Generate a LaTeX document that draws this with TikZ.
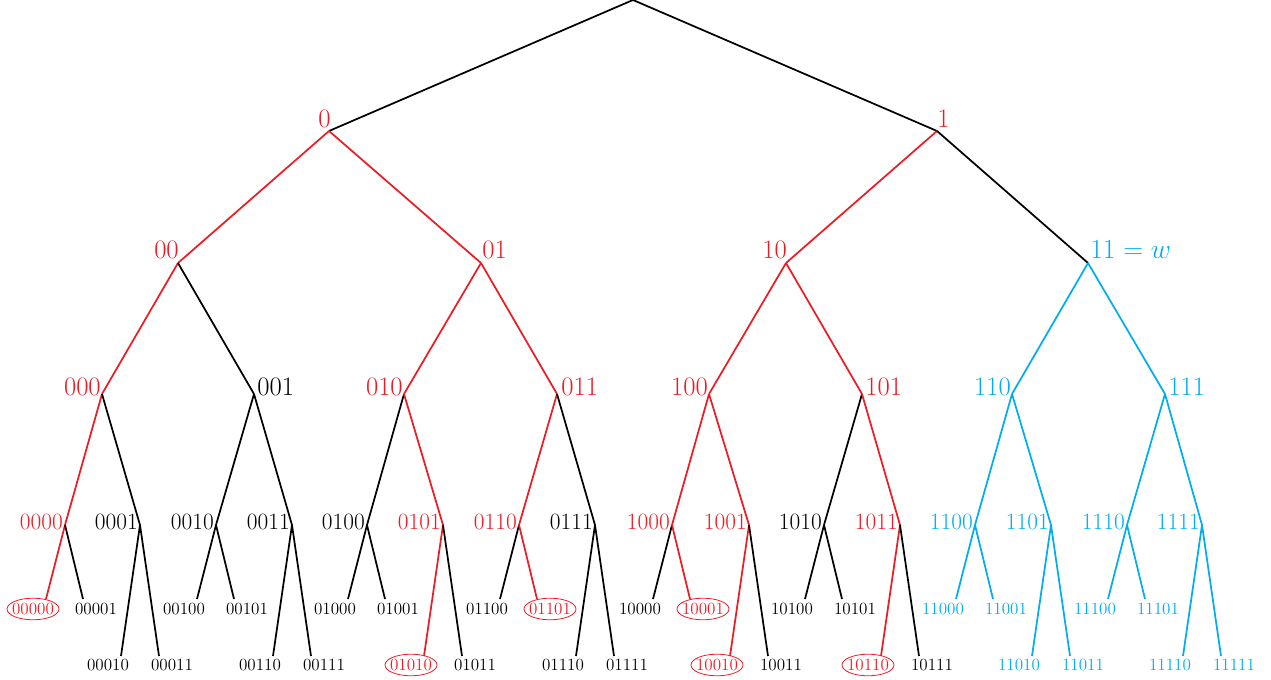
\documentclass[tikz,border=0pt]{standalone}
\usetikzlibrary{calc}
\definecolor{myred}{RGB}{237,28,36}
\definecolor{mycyan}{RGB}{0,174,239}
\begin{document}
\begin{tikzpicture}[x=0.75pt,y=-0.75pt,
  edge/.style={line width=1.3pt},
  lab/.style={inner sep=0pt},
  big/.style={lab,font=\fontsize{20}{22}\selectfont},
  mid/.style={lab,font=\fontsize{17.5}{19}\selectfont},
  sml/.style={lab,font=\fontsize{12.8}{14}\selectfont},
  ring/.style={draw=myred,line width=0.6pt}]
\useasboundingbox (0,0) rectangle (1271,680);
% tree vertices
\coordinate (r) at (633,0);
\coordinate (n0) at (329,131);
\coordinate (n1) at (937,131);
\coordinate (n00) at (178,263);
\coordinate (n01) at (481,263);
\coordinate (n10) at (786,263);
\coordinate (n11) at (1088,263);
% levels 1 and 2
\draw[edge] (r) -- (n0);
\draw[edge] (r) -- (n1);
\draw[edge,myred] (n0) -- (n00);
\draw[edge,myred] (n0) -- (n01);
\draw[edge,myred] (n1) -- (n10);
\draw[edge] (n1) -- (n11);
\node[big,text=myred,anchor=east] (l0) at (331,119) {0};
\node[big,text=myred,anchor=west] (l1) at (937,119) {1};
\node[big,text=myred,anchor=east] (l00) at (179,250) {00};
\node[big,text=myred,anchor=west] (l01) at (482,250) {01};
\node[big,text=myred,anchor=east] (l10) at (787,250) {10};
\node[big,text=mycyan,anchor=west] (l11) at (1090,250) {$11 = w$};
% level 3
\foreach \p/\x/\q/\c/\an/\lx in {
  000/102/00/myred/east/101, 001/254/00/black/west/257,
  010/404/01/myred/east/403, 011/557/01/myred/west/561,
  100/709/10/myred/east/708, 101/862/10/myred/west/865,
  110/1012/11/mycyan/east/1011, 111/1165/11/mycyan/west/1168}{
  \coordinate (n\p) at (\x,394);
  \draw[edge,\c] (n\q) -- (n\p);
  \node[big,text=\c,anchor=\an] (l\p) at (\lx,387) {\p};
}
% level 4
\foreach \p/\x/\q/\c in {
  0000/65/000/myred, 0001/140/000/black,
  0010/216/001/black, 0011/292/001/black,
  0100/367/010/black, 0101/443/010/myred,
  0110/519/011/myred, 0111/595/011/black,
  1000/672/100/myred, 1001/749/100/myred,
  1010/824/101/black, 1011/900/101/myred,
  1100/975/110/mycyan, 1101/1051/110/mycyan,
  1110/1127/111/mycyan, 1111/1202/111/mycyan}{
  \coordinate (n\p) at (\x,525);
  \draw[edge,\c] (n\q) -- (n\p);
  \node[mid,text=\c,anchor=east] (l\p) at (\x-2,522) {\p};
}
% leaves
\foreach \p/\xl/\xr/\y/\ty/\cl/\cr in {
  0000/46/83/599/609/myred/black,
  0001/121/159/656/665/black/black,
  0010/197/234/599/609/black/black,
  0011/273/311/656/665/black/black,
  0100/348/385/599/609/black/black,
  0101/424/462/656/665/myred/black,
  0110/500/537/599/609/black/myred,
  0111/576/614/656/665/black/black,
  1000/653/690/599/609/black/myred,
  1001/730/768/656/665/myred/black,
  1010/805/842/599/609/black/black,
  1011/881/919/656/665/myred/black,
  1100/956/993/599/609/mycyan/mycyan,
  1101/1032/1070/656/665/mycyan/mycyan,
  1110/1108/1145/599/609/mycyan/mycyan,
  1111/1183/1221/656/665/mycyan/mycyan}{
  \coordinate (n\p0) at (\xl,\y);
  \coordinate (n\p1) at (\xr,\y);
  \draw[edge,\cl] (n\p) -- (n\p0);
  \draw[edge,\cr] (n\p) -- (n\p1);
  \node[sml,text=\cl] (l\p0) at (\xl-13,\ty) {\p0};
  \node[sml,text=\cr] (l\p1) at (\xr+13,\ty) {\p1};
}
\foreach \n in {00000,01010,01101,10001,10010,10110}
  \draw[ring] (l\n.center) ellipse [x radius=19.5pt, y radius=8.1pt];
\end{tikzpicture}
\end{document}
